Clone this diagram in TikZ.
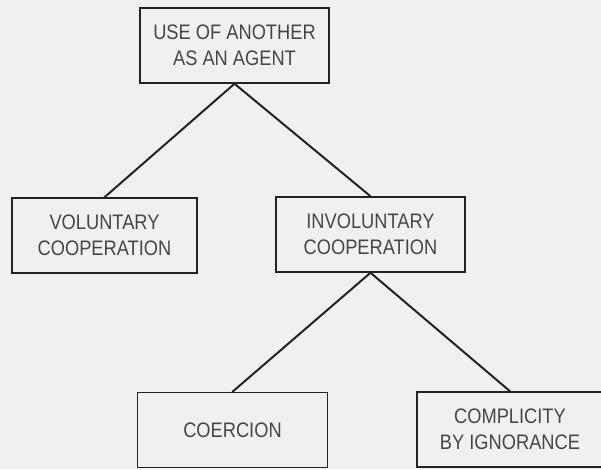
\documentclass[tikz,border=0pt]{standalone}
\usepackage{fontspec}
\setmainfont{Liberation Sans}[FakeStretch=0.87]
\definecolor{paper}{RGB}{240,240,238}
\definecolor{ink}{RGB}{35,35,35}
\definecolor{label}{RGB}{70,70,70}
\tikzset{
  termbox/.style={draw=ink, line width=1.5pt, fill=paper, rectangle,
    minimum height=75pt, inner sep=0pt, align=center, text=label,
    font=\fontsize{21}{26}\selectfont},
  branch/.style={draw=ink, line width=2pt, line cap=round}
}
\begin{document}
\begin{tikzpicture}[x=1pt, y=-1pt]
  % page area
  \fill[paper] (0,0) rectangle (601,469);
  \useasboundingbox (0,0) rectangle (601,469);

  % classification boxes
  \node[termbox, minimum width=189pt] (agent) at (234.5,45.5) {USE OF ANOTHER\\AS AN AGENT};
  \node[termbox, minimum width=185pt] (vol) at (104.5,235.5) {VOLUNTARY\\COOPERATION};
  \node[termbox, minimum width=189pt] (invol) at (370.5,234.5) {INVOLUNTARY\\COOPERATION};
  \node[termbox, minimum width=190pt] (coer) at (232.5,430) {COERCION};
  \node[termbox, minimum width=186pt] (compl) at (510,429.5) {COMPLICITY\\BY IGNORANCE};

  % branches of the tree
  \draw[branch] (agent.south) -- (vol.north);
  \draw[branch] (agent.south) -- (invol.north);
  \draw[branch] (invol.south) -- (coer.north);
  \draw[branch] (invol.south) -- (compl.north);
\end{tikzpicture}
\end{document}
